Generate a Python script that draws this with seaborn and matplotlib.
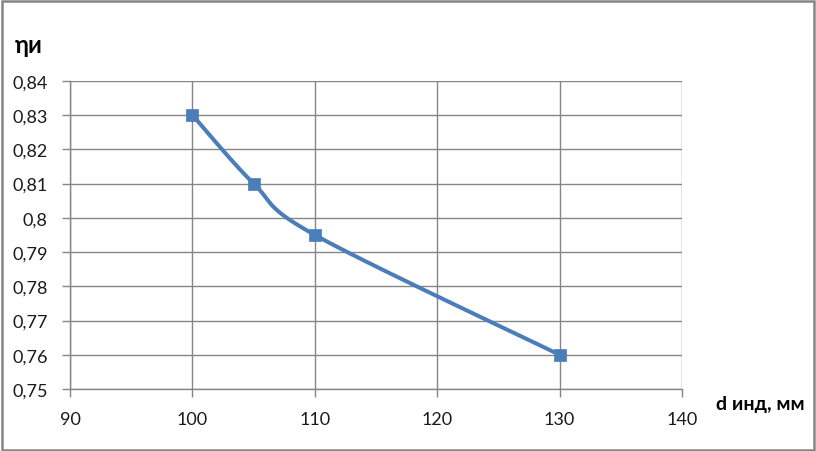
import numpy as np
import pandas as pd
import matplotlib
matplotlib.use("Agg")
import matplotlib.pyplot as plt
import seaborn as sns
from matplotlib.ticker import FuncFormatter

# data
d_ind = [100, 105, 110, 130]
eta = [0.83, 0.81, 0.795, 0.76]
x_ticks = [90, 100, 110, 120, 130, 140]
y_ticks = [0.75, 0.76, 0.77, 0.78, 0.79, 0.80, 0.81, 0.82, 0.83, 0.84]

sns.set_theme(style="white")
plt.rcParams['font.family'] = ['Lato', 'DejaVu Sans']

df = pd.DataFrame({"d": d_ind, "eta": eta})

# smooth line like Excel (bezier through points)
def smooth(xs, ys, n=30):
    xs = np.asarray(xs, float)
    ys = np.asarray(ys, float)
    px = np.concatenate([[xs[0]], xs, [xs[-1]]])
    py = np.concatenate([[ys[0]], ys, [ys[-1]]])
    outx, outy = [], []
    t = np.linspace(0, 1, n)
    for i in range(1, len(px) - 2):
        p0 = np.array([px[i], py[i]])
        p3 = np.array([px[i + 1], py[i + 1]])
        p1 = p0 + (np.array([px[i + 1], py[i + 1]]) - np.array([px[i - 1], py[i - 1]])) / 6
        p2 = p3 - (np.array([px[i + 2], py[i + 2]]) - np.array([px[i], py[i]])) / 6
        b = ((1 - t) ** 3)[:, None] * p0 + (3 * (1 - t) ** 2 * t)[:, None] * p1 \
            + (3 * (1 - t) * t ** 2)[:, None] * p2 + (t ** 3)[:, None] * p3
        outx.extend(b[:, 0])
        outy.extend(b[:, 1])
    return outx, outy

fig = plt.figure(figsize=(8.16, 4.52), dpi=100)
ax = fig.add_axes([0.0858, 0.137, 0.750, 0.682])

blue = "#4A7EBB"
sx, sy = smooth(df["d"], df["eta"])
ax.plot(sx, sy, color=blue, lw=2.9, zorder=3, solid_capstyle="round")
sns.scatterplot(data=df, x="d", y="eta", marker="s", s=64, color=blue,
                edgecolor=blue, linewidth=0.5, ax=ax, zorder=4)

ax.set_xlim(90, 140)
ax.set_ylim(0.75, 0.84)
ax.set_xticks(x_ticks)
ax.set_yticks(y_ticks)
ax.xaxis.set_major_formatter(FuncFormatter(lambda v, p: f"{v:g}"))
ax.yaxis.set_major_formatter(FuncFormatter(lambda v, p: f"{round(v, 2):g}".replace(".", ",")))
ax.grid(True, color="#868686", lw=1)
for s in ["top", "right"]:
    ax.spines[s].set_visible(False)
for s in ["left", "bottom"]:
    ax.spines[s].set_color("#868686")
    ax.spines[s].set_linewidth(1)
ax.tick_params(axis="both", which="major", length=6, width=1, color="#868686",
               labelsize=13, labelcolor="#1a1a1a", direction="out", pad=10,
               bottom=True, left=True)
ax.set_xlabel("")
ax.set_ylabel("")

fig.text(0.018, 0.882, "ηи", fontsize=17, fontweight="bold", color="black")
fig.text(0.878, 0.093, "d инд, мм", fontsize=14, fontweight="bold", color="black")

fig.patches.append(plt.Rectangle((0.002, 0.003), 0.995, 0.993, transform=fig.transFigure,
                                 fill=False, edgecolor="#868686", lw=1.8))

fig.savefig("out.png", dpi=100)
